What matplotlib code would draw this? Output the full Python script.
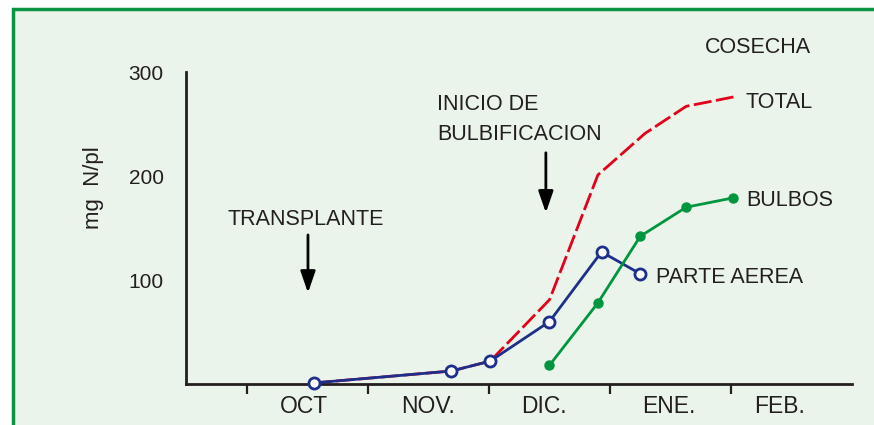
import numpy as np
import matplotlib.pyplot as plt
from matplotlib.patches import Rectangle

# months (x ticks at month boundaries, labels centred in between)
months = ['OCT', 'NOV.', 'DIC.', 'ENE.', 'FEB.']

# x in months from 1 Oct, y in mg N / plant
aerea_x = [0.55, 1.69, 2.01, 2.50, 2.93, 3.25]
aerea_y = [1, 12.5, 22, 60, 127, 106]

bulbos_x = [2.50, 2.90, 3.25, 3.63, 4.02]
bulbos_y = [18, 78, 142, 170, 179]

total_x = [0.55, 1.69, 2.01, 2.50, 2.90, 3.29, 3.63, 4.02]
total_y = [1, 12.5, 22, 81, 201, 241, 267, 276]

bg = '#eaf4ea'
dark = '#231f20'
red = '#e2001a'
blue = '#1d2f8a'
green = '#009640'

plt.rcParams['font.family'] = ['Liberation Sans', 'DejaVu Sans']

fig = plt.figure(figsize=(8.74, 4.25), dpi=100)
fig.patch.set_facecolor('white')
fig.patches.append(Rectangle((13 / 874, -0.2), 1.5, 1.2 - 13 / 425 + 0.01,
                             transform=fig.transFigure, facecolor=bg,
                             edgecolor='#0a9444', linewidth=2.5, zorder=-10))

ax = fig.add_axes([186 / 874, 1 - 384 / 425, (852 - 186) / 874, (384 - 72) / 425])
ax.patch.set_alpha(0)
ax.set_zorder(5)
ax.set_xlim(-0.504, 5.0)
ax.set_ylim(0, 300)
for s in ['top', 'right']:
    ax.spines[s].set_visible(False)
for s in ['left', 'bottom']:
    ax.spines[s].set_linewidth(2)
    ax.spines[s].set_color(dark)

ax.set_xticks(range(5))
ax.set_xticklabels([])
ax.tick_params(axis='x', which='major', direction='out', length=7, width=1.6, color=dark)
ax.set_xticks([0.47, 1.5, 2.45, 3.49, 4.4], minor=True)
ax.set_xticklabels(months, minor=True, fontsize=16.5, color=dark,
                   family=['Liberation Sans Narrow', 'Liberation Sans'])
ax.tick_params(axis='x', which='minor', length=0, pad=8)

ax.set_yticks([100, 200, 300])
ax.set_yticklabels(['100', '200', '300'], fontsize=15, color=dark)
ax.tick_params(axis='y', length=0, pad=16)

ax.plot(total_x, total_y, color=red, lw=2, dashes=(6.5, 1.6), zorder=2, clip_on=False)
ax.plot(aerea_x, aerea_y, color=blue, lw=2, marker='o', ms=8, mfc='white',
        mec=blue, mew=2, zorder=3, clip_on=False)
ax.plot(bulbos_x, bulbos_y, color=green, lw=2, marker='o', ms=6.5,
        mfc=green, mec=green, zorder=3, clip_on=False)

fig.text(93 / 874, 1 - 188 / 425, 'mg  N/pl', rotation=90, ha='center',
         va='center', fontsize=16, color=dark)

kw = dict(fontsize=15.5, color=dark, va='center', ha='left')
ax.text(-0.157, 158, 'TRANSPLANTE', **kw)
ax.text(1.57, 269, 'INICIO DE', **kw)
ax.text(1.57, 240, 'BULBIFICACION', **kw)
ax.text(3.785, 324, 'COSECHA', **kw)
ax.text(4.116, 271, 'TOTAL', **kw)
ax.text(4.124, 176, 'BULBOS', **kw)
ax.text(3.38, 102, 'PARTE AEREA', **kw)

arrow = dict(arrowstyle='-|>,head_length=1.3,head_width=0.45', color='black', lw=2)
ax.annotate('', xy=(0.504, 85), xytext=(0.504, 146), arrowprops=arrow)
ax.annotate('', xy=(2.47, 162), xytext=(2.47, 225), arrowprops=arrow)

fig.savefig('out.png', dpi=100, facecolor=fig.get_facecolor())
